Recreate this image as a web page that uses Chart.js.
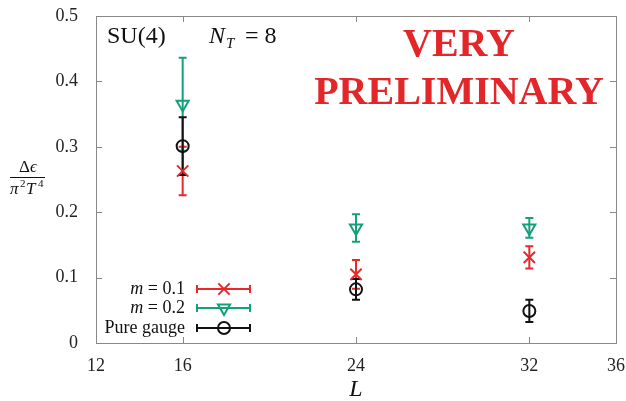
<!DOCTYPE html>
<html>
<head>
<meta charset="utf-8">
<script src="https://cdn.jsdelivr.net/npm/chart.js@4/dist/chart.umd.min.js"></script>
<style>
  html, body { margin: 0; padding: 0; background: #fff; }
  #wrap { width: 626px; height: 401px; }
</style>
</head>
<body>
<div id="wrap"><canvas id="c" width="626" height="401"></canvas></div>
<script>
// 데이터
const sizes = [16, 24, 32];
const m01 = [0.263, 0.105, 0.131];
const m01Err = [0.037, 0.022, 0.017];
const m02 = [0.365, 0.176, 0.176];
const m02Err = [0.071, 0.021, 0.015];
const pure = [0.301, 0.082, 0.049];
const pureErr = [0.044, 0.016, 0.017];
const xTicks = [12, 16, 24, 32, 36];
const yTicks = [0, 0.1, 0.2, 0.3, 0.4, 0.5];

const RED = '#e8282b';
const GREEN = '#14a07a';
const BLACK = '#111111';
const SERIF = '"Liberation Serif", "DejaVu Serif", serif';

const pts = (ys, errs) => sizes.map((x, i) => ({ x, y: ys[i], err: errs[i] }));

// 에러바 그리기
const errorBars = {
  id: 'errorBars',
  beforeDatasetsDraw(chart) {
    const { ctx, scales: { x, y } } = chart;
    chart.data.datasets.forEach((ds) => {
      ctx.save();
      ctx.strokeStyle = ds.borderColor;
      ctx.lineWidth = 2;
      ds.data.forEach(p => {
        const px = x.getPixelForValue(p.x);
        const top = y.getPixelForValue(p.y + p.err);
        const bot = y.getPixelForValue(p.y - p.err);
        ctx.beginPath();
        ctx.moveTo(px, top); ctx.lineTo(px, bot);
        ctx.moveTo(px - 4, top); ctx.lineTo(px + 4, top);
        ctx.moveTo(px - 4, bot); ctx.lineTo(px + 4, bot);
        ctx.stroke();
      });
      ctx.restore();
    });
  }
};

// 테두리, 안쪽 눈금, 텍스트, 범례
const decor = {
  id: 'decor',
  afterDraw(chart) {
    const { ctx, chartArea: a, scales: { x, y } } = chart;
    ctx.save();
    ctx.strokeStyle = '#888';
    ctx.lineWidth = 1;
    ctx.strokeRect(Math.round(a.left) + 0.5, Math.round(a.top) + 0.5,
      Math.round(a.right - a.left), Math.round(a.bottom - a.top));
    ctx.beginPath();
    xTicks.forEach(v => {
      const px = Math.round(x.getPixelForValue(v)) + 0.5;
      ctx.moveTo(px, a.bottom); ctx.lineTo(px, a.bottom - 6);
      ctx.moveTo(px, a.top); ctx.lineTo(px, a.top + 6);
    });
    yTicks.forEach(v => {
      const py = Math.round(y.getPixelForValue(v)) + 0.5;
      ctx.moveTo(a.left, py); ctx.lineTo(a.left + 6, py);
      ctx.moveTo(a.right, py); ctx.lineTo(a.right - 6, py);
    });
    ctx.stroke();

    // SU(4)  N_T = 8
    ctx.fillStyle = '#111';
    ctx.textBaseline = 'alphabetic';
    ctx.textAlign = 'left';
    ctx.font = '24px ' + SERIF;
    ctx.fillText('SU(4)', 107, 43);
    ctx.font = 'italic 24px ' + SERIF;
    ctx.fillText('N', 209, 43);
    ctx.font = 'italic 15px ' + SERIF;
    ctx.fillText('T', 226, 48);
    ctx.font = '24px ' + SERIF;
    ctx.fillText('= 8', 245, 43);

    // VERY PRELIMINARY
    ctx.fillStyle = '#e3262a';
    ctx.textAlign = 'center';
    ctx.font = 'bold 40px ' + SERIF;
    ctx.fillText('VERY', 459, 56);
    ctx.fillText('PRELIMINARY', 459, 104);

    // y축 제목 (분수)
    ctx.fillStyle = '#111';
    ctx.font = '17px ' + SERIF;
    ctx.textAlign = 'right';
    ctx.fillText('Δ', 30, 172);
    ctx.font = 'italic 17px ' + SERIF;
    ctx.textAlign = 'left';
    ctx.fillText('ϵ', 30, 172);
    ctx.fillRect(10, 177, 35, 1);
    ctx.fillText('π', 10, 194);
    ctx.font = '11px ' + SERIF;
    ctx.fillText('2', 20, 187);
    ctx.font = 'italic 17px ' + SERIF;
    ctx.fillText('T', 26, 194);
    ctx.font = '11px ' + SERIF;
    ctx.fillText('4', 38, 187);

    // x축 제목
    ctx.font = 'italic 24px ' + SERIF;
    ctx.textAlign = 'center';
    ctx.fillText('L', x.getPixelForValue(24), 396);

    // 범례
    const rows = [289, 308, 328];
    chart.data.datasets.forEach((ds, i) => {
      const ly = rows[i];
      ctx.fillStyle = '#111';
      ctx.textAlign = 'right';
      ctx.textBaseline = 'middle';
      if (ds.legendMath) {
        const rest = ' = ' + ds.legendMath;
        ctx.font = '18px ' + SERIF;
        const w = ctx.measureText(rest).width;
        ctx.fillText(rest, 185, ly);
        ctx.font = 'italic 18px ' + SERIF;
        ctx.fillText('m', 185 - w, ly);
      } else {
        ctx.font = '18px ' + SERIF;
        ctx.fillText(ds.label, 185, ly);
      }
      ctx.strokeStyle = ds.borderColor;
      ctx.fillStyle = 'rgba(0,0,0,0)';
      ctx.lineWidth = 2;
      ctx.beginPath();
      ctx.moveTo(197, ly); ctx.lineTo(250, ly);
      ctx.moveTo(197, ly - 4); ctx.lineTo(197, ly + 4);
      ctx.moveTo(250, ly - 4); ctx.lineTo(250, ly + 4);
      ctx.stroke();
      Chart.helpers.drawPoint(ctx, {
        pointStyle: ds.pointStyle, radius: ds.pointRadius,
        rotation: ds.pointRotation || 0, borderWidth: 2
      }, 224, ly);
    });
    ctx.restore();
  }
};

new Chart(document.getElementById('c'), {
  type: 'scatter',
  data: {
    datasets: [
      {
        label: 'm = 0.1', legendMath: '0.1',
        data: pts(m01, m01Err),
        borderColor: RED, backgroundColor: 'rgba(0,0,0,0)',
        pointStyle: 'crossRot', pointRadius: 8, pointBorderWidth: 2
      },
      {
        label: 'm = 0.2', legendMath: '0.2',
        data: pts(m02, m02Err),
        borderColor: GREEN, backgroundColor: 'rgba(0,0,0,0)',
        pointStyle: 'triangle', pointRotation: 180, pointRadius: 7, pointBorderWidth: 2
      },
      {
        label: 'Pure gauge',
        data: pts(pure, pureErr),
        borderColor: BLACK, backgroundColor: 'rgba(0,0,0,0)',
        pointStyle: 'circle', pointRadius: 6, pointBorderWidth: 2
      }
    ]
  },
  options: {
    responsive: false,
    animation: false,
    events: [],
    layout: { padding: { left: 0, right: 9, top: 16, bottom: 0 } },
    plugins: { legend: { display: false }, tooltip: { enabled: false } },
    scales: {
      x: {
        type: 'linear', min: 12, max: 36,
        afterBuildTicks: (s) => { s.ticks = xTicks.map(v => ({ value: v })); },
        afterFit: (s) => { s.height = 58; s.paddingRight = 0; s.paddingLeft = 0; },
        grid: { display: false },
        border: { color: '#888', width: 1 },
        ticks: { color: '#222', font: { family: SERIF, size: 18 }, padding: 4 }
      },
      y: {
        min: 0, max: 0.5,
        afterBuildTicks: (s) => { s.ticks = yTicks.map(v => ({ value: v })); },
        afterFit: (s) => { s.width = 96; s.paddingTop = 0; s.paddingBottom = 0; },
        grid: { display: false },
        border: { color: '#888', width: 1 },
        ticks: {
          color: '#222', font: { family: SERIF, size: 18 }, padding: 10,
          callback: (v) => v === 0 ? '0' : v.toFixed(1)
        }
      }
    }
  },
  plugins: [errorBars, decor]
});
</script>
</body>
</html>
